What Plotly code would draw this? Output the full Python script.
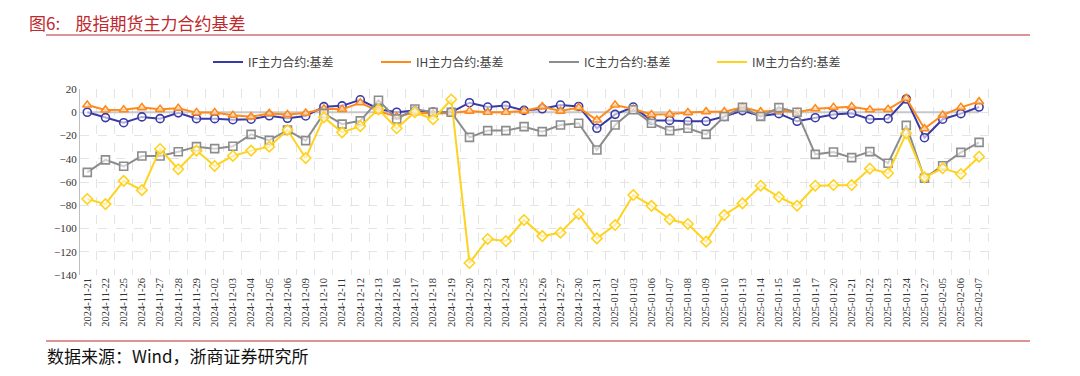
import plotly.graph_objects as go

dates = ["2024-11-21","2024-11-22","2024-11-25","2024-11-26","2024-11-27","2024-11-28","2024-11-29",
         "2024-12-02","2024-12-03","2024-12-04","2024-12-05","2024-12-06","2024-12-09","2024-12-10",
         "2024-12-11","2024-12-12","2024-12-13","2024-12-16","2024-12-17","2024-12-18","2024-12-19",
         "2024-12-20","2024-12-23","2024-12-24","2024-12-25","2024-12-26","2024-12-27","2024-12-30",
         "2024-12-31","2025-01-02","2025-01-03","2025-01-06","2025-01-07","2025-01-08","2025-01-09",
         "2025-01-10","2025-01-13","2025-01-14","2025-01-15","2025-01-16","2025-01-17","2025-01-20",
         "2025-01-21","2025-01-22","2025-01-23","2025-01-24","2025-01-27","2025-02-05","2025-02-06",
         "2025-02-07"]

IF_basis = [0, -4.6, -9, -4, -5.5, -0.5, -5.5, -5.5, -6.4, -6, -3, -5.2, -3.2, 4.8, 5.5, 10.7, 2.8,
            0, 1.4, 0.2, 0, 8.2, 4.5, 5.7, 1.6, 3, 6.2, 5, -13.8, -1.8, 4.5, -7, -7, -7.8, -7.8,
            -3.7, 1.4, -3.2, -1.2, -7.8, -4.7, -2, -0.9, -6, -5.5, 11.4, -21.9, -6, -1.2, 4.5]
IH_basis = [6.2, 2, 2.2, 4, 2.5, 3.4, -0.3, -0.3, -2.6, -3.8, -1, -2, -0.6, 3, 2.5, 8.2, 1,
            -3.8, -0.3, -1.2, -0.6, 1, 0, 0, 1, 4.8, 1, 4, -6.7, 6.2, 2.8, -2, -1.8, -0.3, 0.5,
            0.5, 4.2, 0.5, 1.4, 0, 3, 4.2, 4.8, 2.2, 2.5, 12, -14.1, -2.4, 4.2, 9.1]
IC_basis = [-51.7, -41, -46.5, -37.6, -37.6, -34, -29.6, -31.3, -29.3, -19, -24.2, -15.3, -24.4,
            -1, -10.2, -7.4, 10.3, -5.8, 2.8, 0, 0, -21.6, -15.8, -15.8, -12.4, -16.7, -11, -9.5,
            -32.5, -11, 2.2, -9.5, -15.8, -13.8, -19, -3.7, 4.2, -3.7, 4, 0, -36.2, -34.2, -39,
            -33.9, -43.9, -11.3, -56.8, -46, -34.5, -25.9]
IM_basis = [-74.6, -79, -59, -67, -31.6, -49, -33, -46.2, -37.6, -33, -29.6, -15.3, -39.4, -4.4,
            -17.3, -12, 2.5, -13.8, 0, -6, 11, -129.7, -109, -110.8, -92.7, -106.5, -103.6, -87.5,
            -108.5, -97, -71.2, -80.5, -92.1, -96.1, -111.3, -88.4, -78.4, -63.2, -72.9, -80.4,
            -63.2, -62.6, -62.6, -48.5, -52.5, -18.1, -56, -48.2, -53.1, -38.2]

series_names = ["IF主力合约:基差", "IH主力合约:基差", "IC主力合约:基差", "IM主力合约:基差"]
series_vals = [IF_basis, IH_basis, IC_basis, IM_basis]
colors = ["#3a3aa6", "#ff8a1c", "#8c8c8c", "#ffd21f"]
symbols = ["circle", "triangle-up", "square", "diamond"]

fig = go.Figure()

# zero reference line
fig.add_trace(go.Scatter(x=dates, y=[0]*len(dates), mode="lines",
                         line=dict(color="#c8c8c8", width=2), showlegend=False, hoverinfo="skip"))

for name, vals, c, s in zip(series_names, series_vals, colors, symbols):
    fig.add_trace(go.Scatter(
        x=dates, y=vals, mode="lines+markers", name=name, showlegend=False,
        line=dict(color=c, width=2),
        marker=dict(symbol=s, size=8, color="rgba(255,255,255,0.6)", line=dict(color=c, width=1.6)),
    ))
# legend-only entries (line only)
for name, c in zip(series_names, colors):
    fig.add_trace(go.Scatter(x=[None], y=[None], mode="lines", name=name,
                             line=dict(color=c, width=2)))

def px_x(p):
    return (p - 80) / 910.0

def px_y(p):
    return (275 - p) / 186.0

fig.update_layout(
    width=1080, height=376,
    margin=dict(l=80, r=90, t=89, b=101, autoexpand=False),
    paper_bgcolor="white", plot_bgcolor="white",
    font=dict(family="Noto Sans CJK SC", color="#333333"),
    legend=dict(orientation="h", x=px_x(208), xanchor="left", y=px_y(62), yanchor="middle",
                font=dict(size=12, color="#444444", family="Noto Sans CJK SC"),
                entrywidth=123, entrywidthmode="pixels", itemwidth=30),
    showlegend=True,
)

fig.update_xaxes(
    type="category", range=[-0.4, 49.6], tickangle=-90, tickson="boundaries",
    showgrid=True, gridcolor="#e4e4e4", griddash="dash", gridwidth=1,
    tickfont=dict(family="Liberation Serif", size=10.5, color="#333333"),
    showline=False, ticks="", zeroline=False,
)
fig.update_yaxes(
    range=[-140, 20], dtick=20, showgrid=True, gridcolor="#e4e4e4", griddash="dash",
    tickfont=dict(family="Liberation Serif", size=11, color="#333333"),
    showline=True, linecolor="#bfbfbf", linewidth=1, zeroline=False, ticks="",
)

fig.add_annotation(xref="paper", yref="paper", x=px_x(27), y=px_y(22), xanchor="left", yanchor="middle",
                   text="图6:    股指期货主力合约基差", showarrow=False,
                   font=dict(family="Noto Sans CJK SC", size=17, color="#c0282d"))
fig.add_annotation(xref="paper", yref="paper", x=px_x(45), y=px_y(355), xanchor="left", yanchor="middle",
                   text="数据来源：Wind，浙商证券研究所", showarrow=False,
                   font=dict(family="Noto Sans CJK SC", size=17, color="#111111"))
fig.add_shape(type="line", xref="paper", yref="paper", x0=px_x(46), x1=px_x(1030),
              y0=px_y(35), y1=px_y(35), line=dict(color="#c0282d", width=1.2))
fig.add_shape(type="line", xref="paper", yref="paper", x0=px_x(46), x1=px_x(1030),
              y0=px_y(341), y1=px_y(341), line=dict(color="#c0282d", width=1.2))

fig.write_html("out.html", post_script="document.body.style.margin='0px';",
               config={"displayModeBar": False})
